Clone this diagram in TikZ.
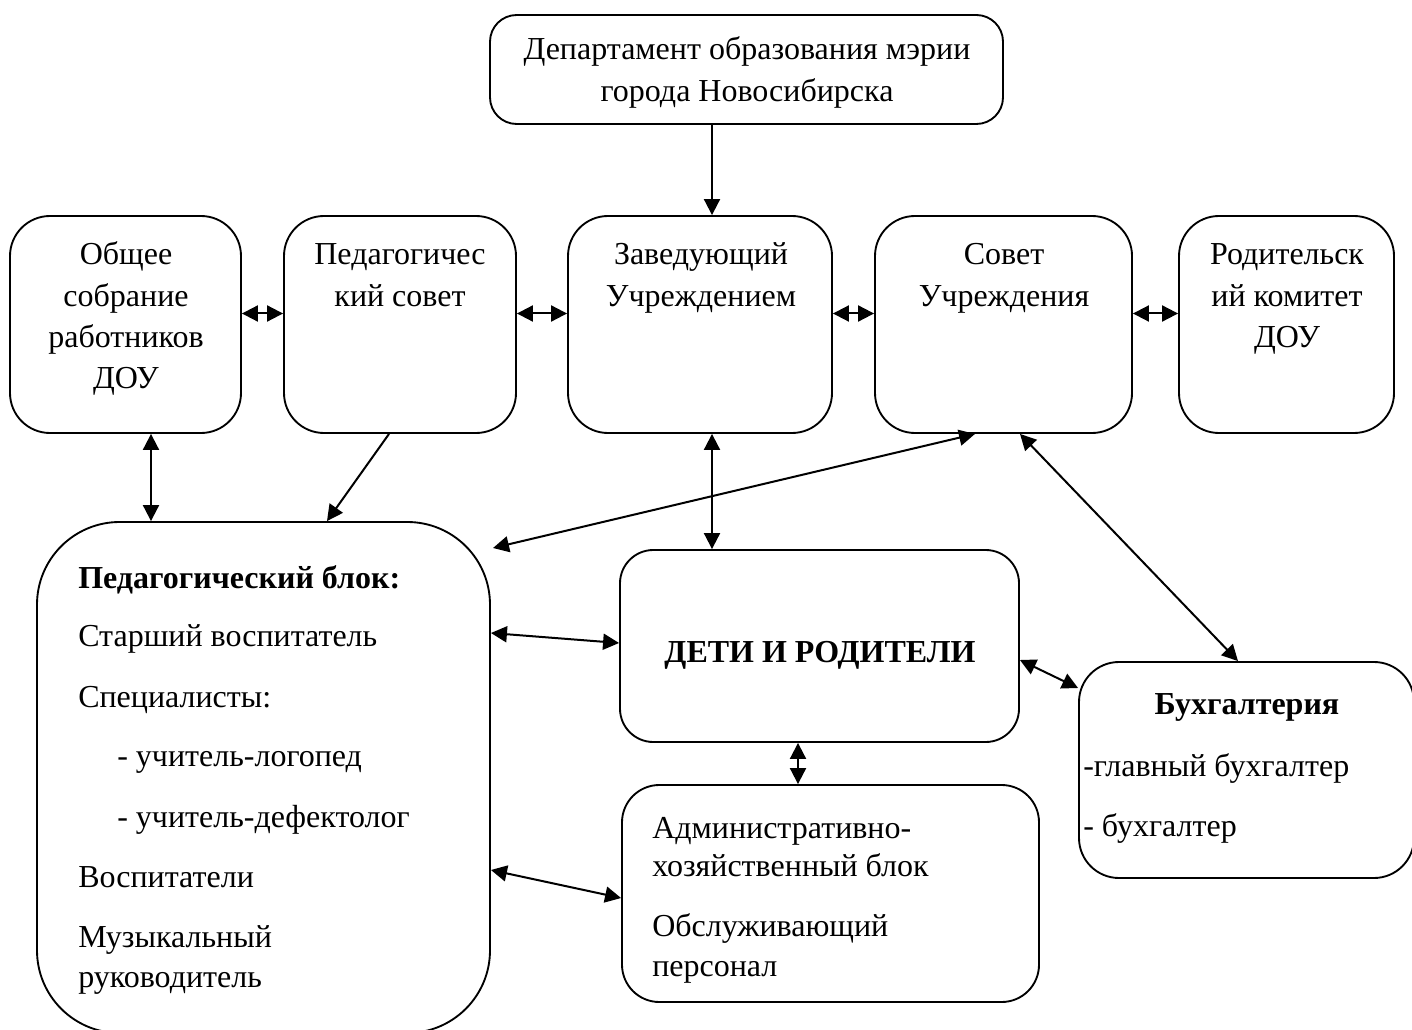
\documentclass[tikz,border=0pt]{standalone}
\usepackage{fontspec}
\setmainfont{Liberation Serif}
\usetikzlibrary{arrows.meta,fit,calc}
\begin{document}
\begin{tikzpicture}[x=0.75pt,y=-0.75pt,
  box/.style={draw, line width=1.4pt, inner sep=0pt},
  lbl/.style={font=\fontsize{24}{32}\selectfont, inner sep=0pt, anchor=base},
  lbll/.style={lbl, anchor=base west},
  conn/.style={line width=1.5pt, -{Triangle[length=12pt,width=12pt]}},
  bconn/.style={line width=1.5pt, {Triangle[length=12pt,width=12pt]}-{Triangle[length=12pt,width=12pt]}}]
\clip (0,0) rectangle (1412,1030);
% boxes
\node[box, rounded corners=20pt, fit={(490,15) (1003,124)}] (dep) {};
\node[box, rounded corners=30pt, fit={(10,216) (241,433)}] (obs) {};
\node[box, rounded corners=30pt, fit={(284,216) (516,433)}] (ped) {};
\node[box, rounded corners=30pt, fit={(568,216) (832,433)}] (zav) {};
\node[box, rounded corners=30pt, fit={(875,216) (1132,433)}] (sov) {};
\node[box, rounded corners=30pt, fit={(1179,216) (1394,433)}] (rod) {};
\node[box, rounded corners=62pt, fit={(37,522) (490,1033)}] (blk) {};
\node[box, rounded corners=25pt, fit={(620,550) (1019,742)}] (det) {};
\node[box, rounded corners=28pt, fit={(622,785) (1039,1002)}] (adm) {};
\node[box, rounded corners=30pt, fit={(1079,662) (1414,878)}] (buh) {};
% texts
\node[lbl] (t1) at (747,60) {Департамент образования мэрии};
\node[lbl] (t2) at (747,102) {города Новосибирска};
\node[lbl] (o1) at (126,265) {Общее};
\node[lbl] (o2) at (126,306) {собрание};
\node[lbl] (o3) at (126,347) {работников};
\node[lbl] (o4) at (126,388) {ДОУ};
\node[lbl] (p1) at (400,265) {Педагогичес};
\node[lbl] (p2) at (400,306) {кий совет};
\node[lbl] (z1) at (701,265) {Заведующий};
\node[lbl] (z2) at (701,306) {Учреждением};
\node[lbl] (s1) at (1004,265) {Совет};
\node[lbl] (s2) at (1004,306) {Учреждения};
\node[lbl] (r1) at (1287,265) {Родительск};
\node[lbl] (r2) at (1287,306) {ий комитет};
\node[lbl] (r3) at (1287,347) {ДОУ};
\node[lbll] (b1) at (78,588) {\bfseries Педагогический блок:};
\node[lbll] (b2) at (78,646) {Старший воспитатель};
\node[lbll] (b3) at (78,707) {Специалисты:};
\node[lbll] (b4) at (117,766) {- учитель-логопед};
\node[lbll] (b5) at (117,827) {- учитель-дефектолог};
\node[lbll] (b6) at (78,887) {Воспитатели};
\node[lbll] (b7) at (78,947) {Музыкальный};
\node[lbll] (b8) at (78,987) {руководитель};
\node[lbl] (d1) at (820,662) {\bfseries ДЕТИ И РОДИТЕЛИ};
\node[lbll] (a1) at (652,838) {Административно-};
\node[lbll] (a2) at (652,876) {хозяйственный блок};
\node[lbll] (a3) at (652,936) {Обслуживающий};
\node[lbll] (a4) at (652,976) {персонал};
\node[lbl] (u1) at (1247,714) {\bfseries Бухгалтерия};
\node[lbll] (u2) at (1083,776) {-главный бухгалтер};
\node[lbll] (u3) at (1083,836) {- бухгалтер};
% connectors
\draw[conn] (dep.south -| 712,0) -- (zav.north -| 712,0);
\draw[bconn] ($(obs.east)+(0,-11)$) -- ($(ped.west)+(0,-11)$);
\draw[bconn] ($(ped.east)+(0,-11)$) -- ($(zav.west)+(0,-11)$);
\draw[bconn] ($(zav.east)+(0,-11)$) -- ($(sov.west)+(0,-11)$);
\draw[bconn] ($(sov.east)+(0,-11)$) -- ($(rod.west)+(0,-11)$);
\draw[bconn] (obs.south -| 151,0) -- (blk.north -| 151,0);
\draw[conn] (ped.south -| 389,0) -- (blk.north -| 327,0);
\draw[bconn] (zav.south -| 712,0) -- (det.north -| 712,0);
\draw[bconn] (sov.south -| 975,0) -- (493,548);
\draw[bconn] (sov.south -| 1020,0) -- (buh.north -| 1238,0);
\draw[bconn] (blk.east |- 0,633) -- (det.west |- 0,643);
\draw[bconn] (det.east |- 0,660) -- (buh.west |- 0,688);
\draw[bconn] (det.south -| 798,0) -- (adm.north -| 798,0);
\draw[bconn] (blk.east |- 0,870) -- (adm.west |- 0,898);
\end{tikzpicture}
\end{document}
